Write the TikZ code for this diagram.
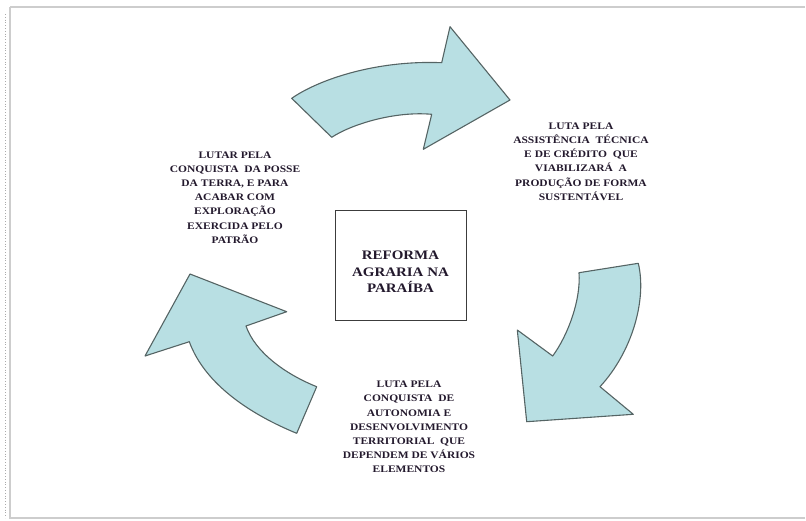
\documentclass[tikz,border=0pt]{standalone}
\usepackage{fontspec}
\setmainfont{Liberation Serif}[FakeStretch=1.15]
\definecolor{arrowfill}{RGB}{184,223,227}
\definecolor{arrowline}{RGB}{85,100,100}
\definecolor{txt}{RGB}{35,25,45}
\definecolor{boxline}{RGB}{60,60,60}
\definecolor{framec}{RGB}{205,205,205}
\definecolor{dotc}{RGB}{170,170,170}
\begin{document}
\begin{tikzpicture}[x=1pt,y=-1pt,
  arrowshape/.style={fill=arrowfill, draw=arrowline, line width=1.1pt, line join=round},
  lbl/.style={align=center, text=txt, font=\bfseries\fontsize{10}{14.2}\selectfont, inner sep=0pt},
  centerbox/.style={draw=boxline, line width=0.9pt, minimum width=131pt, minimum height=110pt, inner sep=0pt}
]
\useasboundingbox (0,0) rectangle (806,520);
% frame
\draw[framec, line width=1.6pt] (10,7) -- (805,7);
\draw[framec, line width=1.6pt] (10,7) -- (10,518) -- (805,518);
\draw[dotc, line width=0.8pt, dotted] (5,14) -- (5,518);

% top arrow
\coordinate (tA) at (291.7,98.3);
\coordinate (tB) at (441.7,62.7);
\coordinate (tUB) at (450,26.7);
\coordinate (tTip) at (510,100);
\coordinate (tLB) at (423.3,149.3);
\coordinate (tE) at (431.7,114.3);
\coordinate (tD) at (331.7,137.3);
\draw[arrowshape] (tA) .. controls (318,80) and (375,60) .. (tB) -- (tUB) -- (tTip) -- (tLB) -- (tE)
  .. controls (395,111) and (352,124) .. (tD) -- cycle;

% right arrow
\coordinate (rF) at (638.3,263.3);
\coordinate (rG) at (600,386.7);
\coordinate (rRB) at (633.3,414.3);
\coordinate (rTip) at (526.7,421.7);
\coordinate (rLB) at (517.3,330);
\coordinate (rH) at (552.7,356);
\coordinate (rI) at (579,272.7);
\draw[arrowshape] (rF) .. controls (647,300) and (632,352) .. (rG) -- (rRB) -- (rTip) -- (rLB) -- (rH)
  .. controls (568,335) and (581,300) .. (rI) -- cycle;

% left arrow
\coordinate (lTip) at (190,274);
\coordinate (lUB) at (286.7,311.7);
\coordinate (lJ) at (246,326);
\coordinate (lK) at (316.7,386.7);
\coordinate (lL) at (296.7,433.3);
\coordinate (lM) at (189.3,341.7);
\coordinate (lLB) at (145,356);
\draw[arrowshape] (lTip) -- (lUB) -- (lJ) .. controls (255,352) and (285,374) .. (lK) -- (lL)
  .. controls (252,415) and (205,385) .. (lM) -- (lLB) -- cycle;

% center box
\node[centerbox] (box) at (400.5,265) {};
\node[lbl, font=\bfseries\fontsize{13}{16.5}\selectfont] (boxtext) at (400.5,272) {REFORMA\\AGRARIA NA\\PARAÍBA};

% labels
\node[lbl] (left) at (235,197.5) {LUTAR PELA\\CONQUISTA\ \ DA POSSE\\DA TERRA, E PARA\\ACABAR COM\\EXPLORAÇÃO\\EXERCIDA PELO\\PATRÃO};
\node[lbl] (right) at (581,161.5) {LUTA PELA\\ASSISTÊNCIA\ \ TÉCNICA\\E DE CRÉDITO\ \ QUE\\VIABILIZARÁ\ \ A\\PRODUÇÃO DE FORMA\\SUSTENTÁVEL};
\node[lbl] (bottom) at (409,427) {LUTA PELA\\CONQUISTA\ \ DE\\AUTONOMIA E\\DESENVOLVIMENTO\\TERRITORIAL\ \ QUE\\DEPENDEM DE VÁRIOS\\ELEMENTOS};
\end{tikzpicture}
\end{document}
